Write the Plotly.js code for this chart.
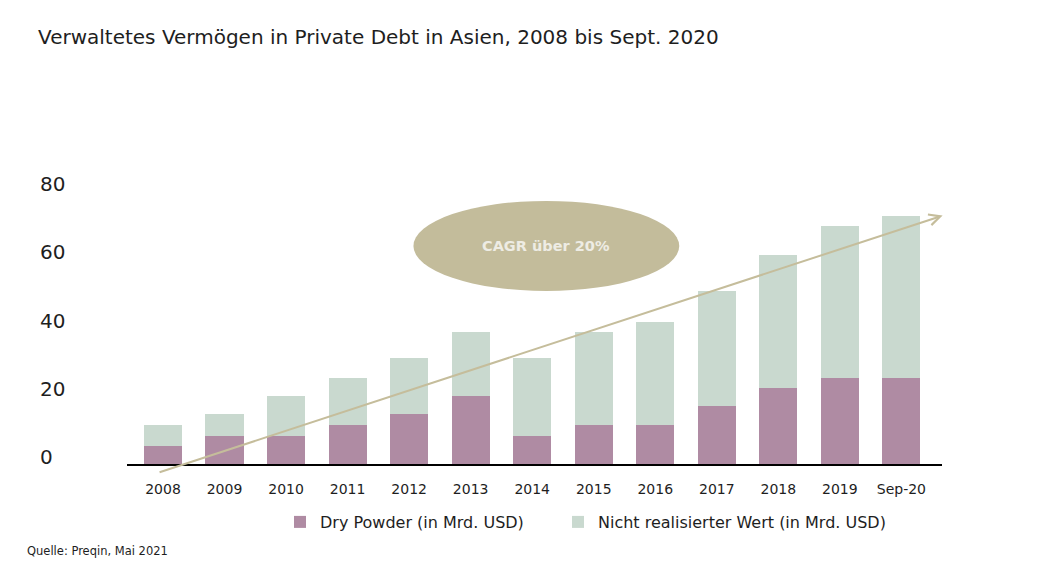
<!DOCTYPE html>
<html>
<head>
<meta charset="utf-8">
<script src="https://cdn.plot.ly/plotly-3.0.1.min.js"></script>
<style>
  html, body { margin: 0; padding: 0; background: #ffffff; }
  #chart { width: 1063px; height: 569px; }
</style>
</head>
<body>
<div id="chart"></div>
<script>
// ---- data ----
const categories = ['2008','2009','2010','2011','2012','2013','2014','2015','2016','2017','2018','2019','Sep-20'];
const dryPowder  = [5.3, 8.2, 8.2, 11.4, 14.7, 19.9, 8.2, 11.4, 11.4, 17.0, 22.3, 25.2, 25.2];
const unrealized = [6.1, 6.5, 11.7, 13.8, 16.4, 18.8, 22.9, 27.3, 30.2, 33.7, 39.0, 44.6, 47.5];
const yTicks = [0, 20, 40, 60, 80];
const seriesNames = ['Dry Powder (in Mrd. USD)', 'Nicht realisierter Wert (in Mrd. USD)'];
const titleText = 'Verwaltetes Vermögen in Private Debt in Asien, 2008 bis Sept. 2020';
const sourceText = 'Quelle: Preqin, Mai 2021';
const cagrText = 'CAGR über 20%';

const FONT = 'DejaVu Sans, Noto Sans, sans-serif';
const TXT = '#1e1e1e';

const traces = [
  { type: 'bar', x: categories, y: dryPowder, name: seriesNames[0], legend: 'legend',
    marker: { color: '#af8ba3' }, hoverinfo: 'skip' },
  { type: 'bar', x: categories, y: unrealized, name: seriesNames[1], legend: 'legend2',
    marker: { color: '#c9d9cf' }, hoverinfo: 'skip' }
];

const W = 1063, H = 569, L = 127, R = 121, T = 191, B = 105;
const plotW = W - L - R, plotH = H - T - B;

const annotations = yTicks.map(v => ({
  xref: 'paper', yref: 'y', x: (38 - L) / plotW, y: v, yshift: 7,
  xanchor: 'left', yanchor: 'middle', showarrow: false,
  text: String(v), font: { family: FONT, size: 20, color: TXT }
}));

annotations.push({
  xref: 'x', yref: 'y', axref: 'x', ayref: 'y',
  x: 12.67, y: 72.8, ax: -0.08, ay: -2.55,
  text: '', showarrow: true, arrowhead: 5, arrowsize: 1.1, arrowwidth: 2,
  arrowcolor: '#c5bd9b', standoff: 0, startstandoff: 0
});
annotations.push({
  xref: 'x', yref: 'y', x: 6.23, y: 63.9, text: '<b>' + cagrText + '</b>',
  showarrow: false, font: { family: FONT, size: 14.5, color: '#eeece4' }
});
annotations.push({
  xref: 'paper', yref: 'paper', x: (25 - L) / plotW, y: (464 - 551) / plotH,
  xanchor: 'left', yanchor: 'middle', showarrow: false,
  text: sourceText, font: { family: FONT, size: 11.5, color: TXT }
});

const legendBase = {
  orientation: 'h', xanchor: 'left', y: (464 - 522) / plotH, yanchor: 'middle',
  font: { family: FONT, size: 16, color: TXT }, itemclick: false, bgcolor: 'rgba(0,0,0,0)'
};

const layout = {
  width: W, height: H,
  margin: { l: L, r: R, t: T, b: B, pad: 0 },
  paper_bgcolor: '#ffffff', plot_bgcolor: '#ffffff',
  font: { family: FONT, color: TXT },
  barmode: 'stack', bargap: 0.38,
  title: { text: titleText, x: 38 / W, xanchor: 'left', y: 1 - 37 / H, yanchor: 'middle',
           font: { family: FONT, size: 20, color: TXT } },
  xaxis: { type: 'category', range: [-0.585, 12.66], showgrid: false, zeroline: false,
           showline: true, linecolor: '#000000', linewidth: 1.5, ticks: '',
           ticklabelstandoff: 12, tickfont: { family: FONT, size: 14, color: TXT } },
  yaxis: { range: [0, 80], showgrid: false, zeroline: false, showline: false,
           showticklabels: false, ticks: '' },
  showlegend: true,
  legend: Object.assign({}, legendBase, { x: (280 - L) / plotW }),
  legend2: Object.assign({}, legendBase, { x: (558 - L) / plotW }),
  shapes: [{
    type: 'circle', xref: 'x', yref: 'y', x0: 4.07, x1: 8.39, y0: 50.7, y1: 77.1,
    fillcolor: '#c3bc9b', line: { width: 0 }, layer: 'above'
  }],
  annotations: annotations
};

Plotly.newPlot('chart', traces, layout, { displayModeBar: false, staticPlot: true });
</script>
</body>
</html>
